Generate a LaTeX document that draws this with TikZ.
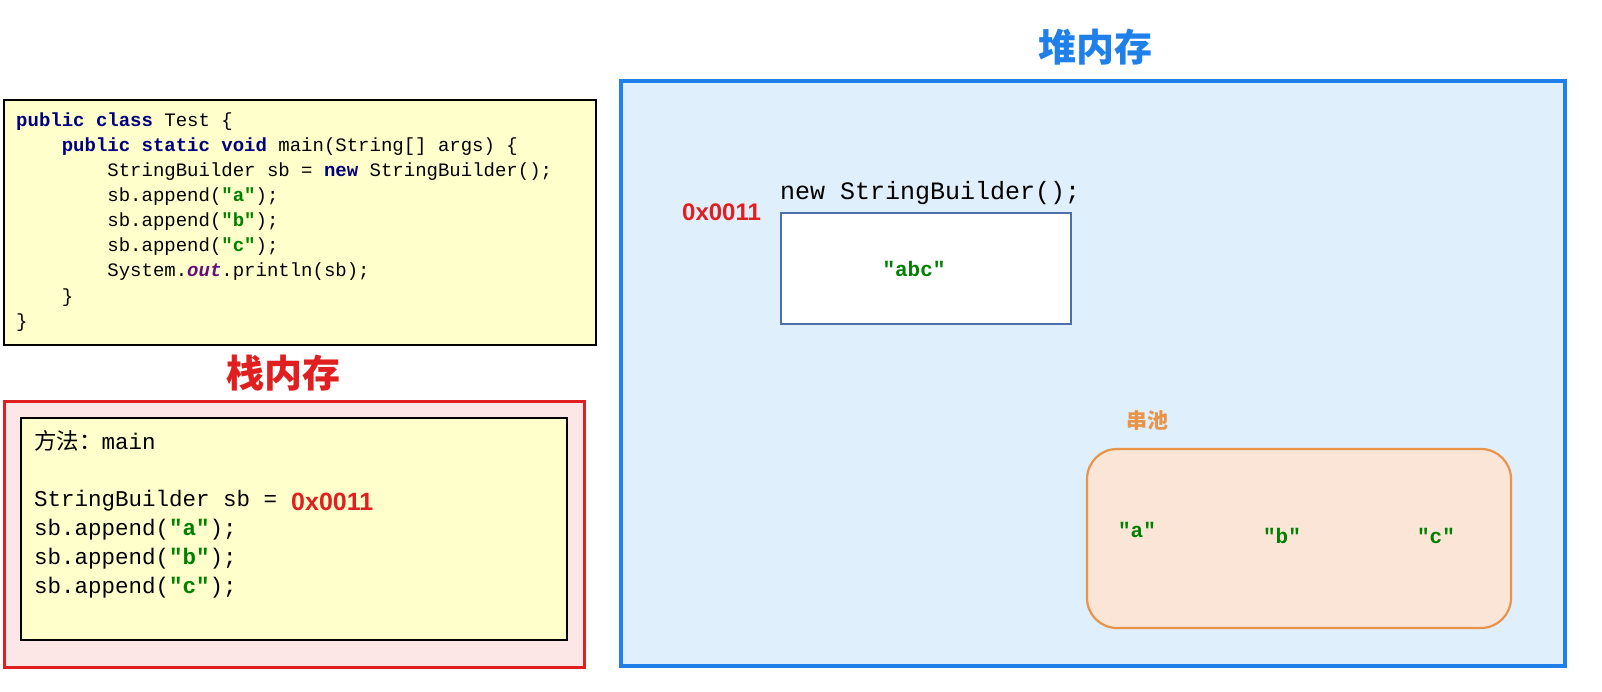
\documentclass[tikz,border=0pt]{standalone}
\usepackage{fontspec}
\setmonofont{Liberation Mono}
\setmainfont{Liberation Sans}
\newfontfamily\cjk{Noto Sans CJK SC}
\definecolor{kw}{HTML}{000080}
\definecolor{str}{HTML}{008000}
\definecolor{fld}{HTML}{660E7A}
\definecolor{codebg}{HTML}{FFFFCC}
\definecolor{stackbg}{HTML}{FDE6E6}
\definecolor{stackred}{HTML}{E02020}
\definecolor{heapbg}{HTML}{DFEFFC}
\definecolor{heapblue}{HTML}{1E80E8}
\definecolor{poolbg}{HTML}{FBE5D6}
\definecolor{poolor}{HTML}{E8944A}
\definecolor{objb}{HTML}{4F6FA8}
\newcommand{\kwd}[1]{{\color{kw}\bfseries #1}}
\newcommand{\strg}[1]{{\color{str}\bfseries #1}}
\begin{document}
\begin{tikzpicture}[x=1pt,y=-1pt,
  code/.style={anchor=west,inner sep=0pt,font=\fontsize{19}{19}\selectfont\ttfamily},
  scode/.style={anchor=west,inner sep=0pt,font=\fontsize{22.5}{22.5}\selectfont\ttfamily},
  title/.style={font=\fontsize{38}{38}\selectfont\cjk\bfseries}]
\fill[white] (0,0) rectangle (1602,691);
% code box
\draw[fill=codebg,line width=1.2pt] (4,100) rectangle (596,345);
\node[code] (c1) at (16,122) {\kwd{public class} Test \{};
\node[code] (c2) at (16,147) {~~~~\kwd{public static void} main(String[] args) \{};
\node[code] (c3) at (16,172) {~~~~~~~~StringBuilder sb = \kwd{new} StringBuilder();};
\node[code] (c4) at (16,197) {~~~~~~~~sb.append(\strg{"a"});};
\node[code] (c5) at (16,222) {~~~~~~~~sb.append(\strg{"b"});};
\node[code] (c6) at (16,247) {~~~~~~~~sb.append(\strg{"c"});};
\node[code] (c7) at (16,272) {~~~~~~~~System.{\color{fld}\bfseries\itshape out}.println(sb);};
\node[code] (c8) at (16,298) {~~~~\}};
\node[code] (c9) at (16,323) {\}};
% stack
\node[title,text=stackred] (st) at (283,373) {栈内存};
\draw[fill=stackbg,draw=stackred,line width=3pt] (4,401) rectangle (584,667);
\draw[fill=codebg,line width=1.2pt] (21,418) rectangle (567,640);
\node[scode] (s1) at (34,441) {{\cjk 方法：}main};
\node[scode] (s2) at (34,501) {StringBuilder sb =};
\node[anchor=west,inner sep=0pt,text=stackred,font=\fontsize{25}{25}\selectfont\bfseries] (addr1) at (291,502) {0x0011};
\node[scode] (s3) at (34,530) {sb.append(\strg{"a"});};
\node[scode] (s4) at (34,559) {sb.append(\strg{"b"});};
\node[scode] (s5) at (34,588) {sb.append(\strg{"c"});};
% heap
\node[title,text=heapblue] (hp) at (1095,47) {堆内存};
\draw[fill=heapbg,draw=heapblue,line width=4pt] (621,81) rectangle (1565,666);
\node[anchor=west,inner sep=0pt,font=\fontsize{25}{25}\selectfont\ttfamily] (nsb) at (780,193) {new StringBuilder();};
\node[anchor=west,inner sep=0pt,text=stackred,font=\fontsize{24}{24}\selectfont\bfseries] (addr2) at (682,212) {0x0011};
\draw[fill=white,draw=objb,line width=2pt] (781,213) rectangle (1071,324);
\node[text=str,font=\fontsize{21}{21}\selectfont\ttfamily\bfseries] (abc) at (914,269) {"abc"};
% pool
\node[text=poolor,font=\fontsize{21}{21}\selectfont\cjk\bfseries] (pl) at (1147,421) {串池};
\draw[fill=poolbg,draw=poolor,line width=2.2pt,rounded corners=30pt] (1087,449) rectangle (1511,628);
\node[text=str,font=\fontsize{21}{21}\selectfont\ttfamily\bfseries] (pa) at (1137,530) {"a"};
\node[text=str,font=\fontsize{21}{21}\selectfont\ttfamily\bfseries] (pb) at (1282,536) {"b"};
\node[text=str,font=\fontsize{21}{21}\selectfont\ttfamily\bfseries] (pc) at (1436,536) {"c"};
\pgfresetboundingbox
\path[use as bounding box] (0,0) rectangle (1602,691);
\end{tikzpicture}
\end{document}
